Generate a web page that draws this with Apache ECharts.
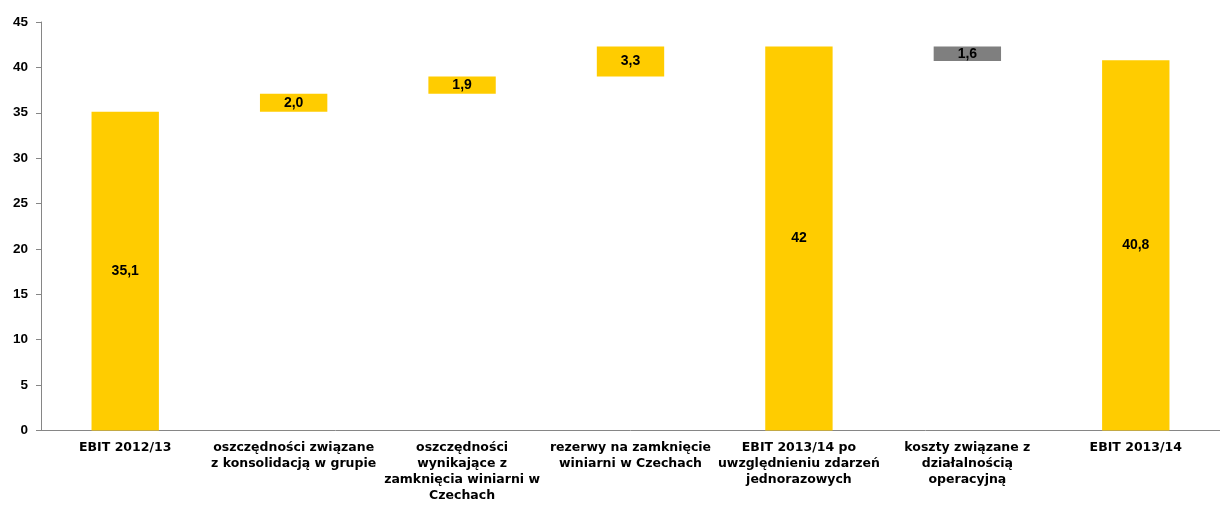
<!DOCTYPE html>
<html><head><meta charset="utf-8">
<script src="https://cdn.jsdelivr.net/npm/echarts@6/dist/echarts.min.js"></script>
<style>html,body{margin:0;padding:0;background:#fff}#c{width:1220px;height:505px}</style>
</head><body><div id="c"></div>
<script>
const categories = [
  'EBIT 2012/13',
  'oszczędności związane\nz konsolidacją w grupie',
  'oszczędności\nwynikające z\nzamknięcia winiarni w\nCzechach',
  'rezerwy na zamknięcie\nwiniarni w Czechach',
  'EBIT 2013/14 po\nuwzględnieniu zdarzeń\njednorazowych',
  'koszty związane z\ndziałalnością\noperacyjną',
  'EBIT 2013/14'
];
const baseValues = [0, 35.1, 37.1, 39.0, 0, 40.7, 0];
const barValues = [35.1, 2.0, 1.9, 3.3, 42.3, 1.6, 40.8];
const barLabels = ['35,1', '2,0', '1,9', '3,3', '42', '1,6', '40,8'];
const barColors = ['#FFCC00', '#FFCC00', '#FFCC00', '#FFCC00', '#FFCC00', '#7F7F7F', '#FFCC00'];
const yTicks = [0, 5, 10, 15, 20, 25, 30, 35, 40, 45];

const arial = 'Liberation Sans, Arial, sans-serif';
const wide = 'DejaVu Sans, sans-serif';
const chart = echarts.init(document.getElementById('c'), null, {renderer: 'canvas'});
chart.setOption({
  animation: false,
  grid: {left: 41, right: -11, top: 22, bottom: 74.5, containLabel: false},
  xAxis: {
    type: 'category',
    data: categories,
    axisLine: {lineStyle: {color: '#868686', width: 1}},
    axisTick: {length: 5, lineStyle: {color: '#868686'}},
    axisLabel: {
      interval: 0, color: '#000', fontFamily: wide, fontWeight: 'bold', fontSize: 12.5,
      lineHeight: 16.2, margin: 9, align: 'center'
    }
  },
  yAxis: {
    type: 'value', min: yTicks[0], max: yTicks[yTicks.length - 1], interval: 5,
    splitLine: {show: false},
    axisLine: {show: true, lineStyle: {color: '#868686', width: 1}},
    axisTick: {show: true, length: 5, lineStyle: {color: '#868686'}},
    axisLabel: {color: '#000', fontFamily: arial, fontWeight: 'bold', fontSize: 13.5, margin: 13}
  },
  series: [
    {
      type: 'bar', stack: 'w', barWidth: '40%', silent: true,
      itemStyle: {color: 'transparent'},
      data: baseValues
    },
    {
      type: 'bar', stack: 'w', barWidth: '40%',
      data: barValues.map((v, i) => ({value: v, itemStyle: {color: barColors[i]}})),
      label: {
        show: true, position: 'inside', color: '#000', fontFamily: arial,
        fontWeight: 'bold', fontSize: 14,
        formatter: p => barLabels[p.dataIndex]
      }
    }
  ]
});
</script></body></html>
